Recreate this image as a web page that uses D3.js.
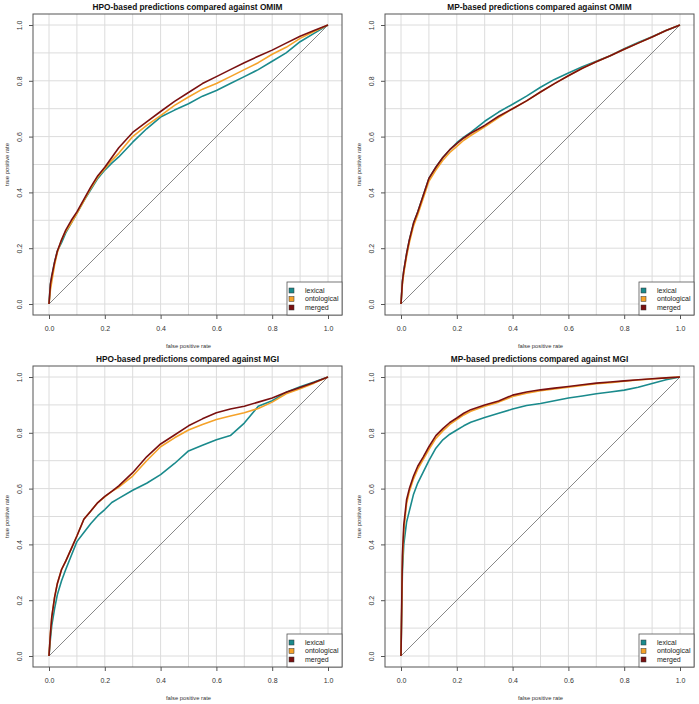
<!DOCTYPE html>
<html>
<head>
<meta charset="utf-8">
<script src="https://cdn.jsdelivr.net/npm/d3@7"></script>
<style>
  html, body { margin: 0; padding: 0; background: #fff; }
  svg { display: block; font-family: "Liberation Sans", Arial, sans-serif; }
</style>
</head>
<body>
<svg id="chart" width="699" height="704"></svg>
<script>
// ---------------- data ----------------
const fpr = [0, 0.005, 0.01, 0.02, 0.03, 0.045, 0.06, 0.08, 0.1, 0.125, 0.15, 0.175, 0.2, 0.225, 0.25,
             0.3, 0.35, 0.4, 0.45, 0.5, 0.55, 0.6, 0.65, 0.7, 0.75, 0.8, 0.85, 0.9, 0.95, 1];

const hpoOmimLexical     = [0, 0.07, 0.10, 0.15, 0.19, 0.22, 0.255, 0.29, 0.325, 0.37, 0.41, 0.45, 0.48, 0.505, 0.527,
                            0.58, 0.628, 0.67, 0.695, 0.718, 0.745, 0.765, 0.79, 0.815, 0.84, 0.87, 0.90, 0.94, 0.97, 1];
const hpoOmimOntological = [0, 0.05, 0.08, 0.14, 0.185, 0.23, 0.26, 0.29, 0.325, 0.37, 0.415, 0.455, 0.485, 0.515, 0.54,
                            0.60, 0.64, 0.675, 0.712, 0.742, 0.77, 0.79, 0.815, 0.84, 0.865, 0.895, 0.92, 0.952, 0.977, 1];
const hpoOmimMerged      = [0, 0.07, 0.10, 0.15, 0.19, 0.23, 0.265, 0.30, 0.33, 0.375, 0.42, 0.46, 0.49, 0.525, 0.56,
                            0.615, 0.653, 0.69, 0.726, 0.758, 0.79, 0.815, 0.84, 0.865, 0.888, 0.91, 0.935, 0.96, 0.98, 1];

const mpOmimLexical      = [0, 0.08, 0.12, 0.18, 0.23, 0.29, 0.33, 0.39, 0.45, 0.49, 0.525, 0.553, 0.578, 0.598, 0.615,
                            0.655, 0.688, 0.716, 0.745, 0.777, 0.805, 0.828, 0.85, 0.87, 0.89, 0.915, 0.937, 0.958, 0.98, 1];
const mpOmimOntological  = [0, 0.07, 0.11, 0.17, 0.22, 0.28, 0.32, 0.38, 0.44, 0.48, 0.515, 0.543, 0.565, 0.587, 0.604,
                            0.635, 0.668, 0.70, 0.728, 0.76, 0.79, 0.818, 0.845, 0.868, 0.89, 0.913, 0.935, 0.957, 0.98, 1];
const mpOmimMerged       = [0, 0.08, 0.12, 0.18, 0.23, 0.29, 0.33, 0.39, 0.45, 0.49, 0.525, 0.553, 0.575, 0.595, 0.612,
                            0.64, 0.673, 0.70, 0.728, 0.76, 0.79, 0.818, 0.845, 0.868, 0.89, 0.913, 0.935, 0.957, 0.98, 1];

const hpoMgiLexical      = [0, 0.06, 0.11, 0.17, 0.22, 0.27, 0.31, 0.36, 0.41, 0.443, 0.475, 0.503, 0.525, 0.55, 0.565,
                            0.594, 0.619, 0.65, 0.69, 0.735, 0.755, 0.775, 0.79, 0.835, 0.895, 0.915, 0.945, 0.965, 0.982, 1];
const hpoMgiOntological  = [0, 0.08, 0.14, 0.21, 0.26, 0.31, 0.34, 0.385, 0.43, 0.49, 0.52, 0.55, 0.57, 0.59, 0.605,
                            0.645, 0.70, 0.75, 0.782, 0.81, 0.83, 0.848, 0.86, 0.872, 0.887, 0.91, 0.94, 0.958, 0.978, 1];
const hpoMgiMerged       = [0, 0.08, 0.14, 0.21, 0.26, 0.31, 0.34, 0.385, 0.43, 0.49, 0.52, 0.55, 0.572, 0.59, 0.61,
                            0.657, 0.714, 0.76, 0.792, 0.825, 0.85, 0.872, 0.885, 0.895, 0.91, 0.925, 0.945, 0.962, 0.98, 1];

const mpMgiLexical       = [0, 0.30, 0.40, 0.48, 0.52, 0.58, 0.62, 0.66, 0.70, 0.745, 0.775, 0.795, 0.81, 0.825, 0.838,
                            0.855, 0.87, 0.885, 0.898, 0.905, 0.915, 0.925, 0.932, 0.94, 0.946, 0.953, 0.963, 0.977, 0.99, 1];
const mpMgiOntological   = [0, 0.33, 0.45, 0.545, 0.59, 0.635, 0.67, 0.705, 0.74, 0.78, 0.807, 0.83, 0.847, 0.864, 0.877,
                            0.895, 0.91, 0.93, 0.942, 0.951, 0.957, 0.963, 0.97, 0.976, 0.98, 0.985, 0.989, 0.993, 0.997, 1];
const mpMgiMerged        = [0, 0.36, 0.47, 0.56, 0.60, 0.645, 0.68, 0.714, 0.75, 0.79, 0.815, 0.837, 0.853, 0.87, 0.883,
                            0.90, 0.914, 0.935, 0.946, 0.954, 0.96, 0.966, 0.972, 0.978, 0.982, 0.986, 0.99, 0.994, 0.997, 1];

const seriesNames = ["lexical", "ontological", "merged"];
const panelTitles = [
  "HPO-based predictions compared against OMIM",
  "MP-based predictions compared against OMIM",
  "HPO-based predictions compared against MGI",
  "MP-based predictions compared against MGI"
];
const tickValues = [0, 0.2, 0.4, 0.6, 0.8, 1.0];
const gridValues = [0, 0.1, 0.2, 0.3, 0.4, 0.5, 0.6, 0.7, 0.8, 0.9, 1.0];
const xLabel = "false positive rate";
const yLabel = "true positive rate";

const panelData = [
  [hpoOmimLexical, hpoOmimOntological, hpoOmimMerged],
  [mpOmimLexical, mpOmimOntological, mpOmimMerged],
  [hpoMgiLexical, hpoMgiOntological, hpoMgiMerged],
  [mpMgiLexical, mpMgiOntological, mpMgiMerged]
];

// ---------------- style ----------------
const colors = ["#1a8a8c", "#f5a229", "#7a1010"];
const svg = d3.select("#chart");

function drawPanel(i) {
  const col = i % 2, row = Math.floor(i / 2);
  const ox = col * 352, oy = row * 352;
  const box = { x0: 33 + ox, x1: 342 + ox, y0: 14 + oy, y1: 315 + oy };
  const x = d3.scaleLinear().domain([0, 1]).range([49 + ox, 328 + ox]);
  const y = d3.scaleLinear().domain([0, 1]).range([304 + oy, 25 + oy]);
  const g = svg.append("g");

  // grid
  g.append("g").selectAll("line.v").data(gridValues).join("line")
    .attr("x1", d => x(d)).attr("x2", d => x(d))
    .attr("y1", box.y0).attr("y2", box.y1)
    .attr("stroke", "#dcdcdc").attr("stroke-width", 1);
  g.append("g").selectAll("line.h").data(gridValues).join("line")
    .attr("y1", d => y(d)).attr("y2", d => y(d))
    .attr("x1", box.x0).attr("x2", box.x1)
    .attr("stroke", "#dcdcdc").attr("stroke-width", 1);

  // diagonal
  g.append("line")
    .attr("x1", x(0)).attr("y1", y(0)).attr("x2", x(1)).attr("y2", y(1))
    .attr("stroke", "#7a7a7a").attr("stroke-width", 0.9);

  // curves
  const line = d3.line().x((d, k) => x(fpr[k])).y(d => y(d));
  panelData[i].forEach((vals, s) => {
    g.append("path").datum(vals)
      .attr("d", line)
      .attr("fill", "none")
      .attr("stroke", colors[s])
      .attr("stroke-width", 1.6)
      .attr("stroke-linejoin", "round");
  });

  // box
  g.append("rect")
    .attr("x", box.x0).attr("y", box.y0)
    .attr("width", box.x1 - box.x0).attr("height", box.y1 - box.y0)
    .attr("fill", "none").attr("stroke", "#555").attr("stroke-width", 1);

  // axes
  const xa = g.append("g").attr("transform", `translate(0,${box.y1})`)
    .call(d3.axisBottom(x).tickValues(tickValues).tickFormat(d3.format(".1f")).tickSize(4).tickPadding(7));
  xa.select(".domain").remove();
  xa.selectAll("line").attr("stroke", "#555");
  xa.selectAll("text").attr("font-size", 7).attr("fill", "#333").attr("font-family", "Liberation Sans, Arial, sans-serif");

  const ya = g.append("g").attr("transform", `translate(${box.x0},0)`)
    .call(d3.axisLeft(y).tickValues(tickValues).tickFormat(d3.format(".1f")).tickSize(4));
  ya.select(".domain").remove();
  ya.selectAll("line").attr("stroke", "#555");
  ya.selectAll("text")
    .attr("transform", "rotate(-90)")
    .attr("x", 0).attr("y", -13).attr("dy", "0.35em")
    .attr("text-anchor", "middle")
    .attr("font-size", 7).attr("fill", "#333").attr("font-family", "Liberation Sans, Arial, sans-serif");

  // title
  g.append("text")
    .attr("x", (box.x0 + box.x1) / 2).attr("y", 10 + oy)
    .attr("text-anchor", "middle")
    .attr("font-size", 8.3).attr("font-weight", "bold").attr("fill", "#111")
    .text(panelTitles[i]);

  // axis labels
  g.append("text")
    .attr("x", (x(0) + x(1)) / 2).attr("y", 348 + oy)
    .attr("text-anchor", "middle").attr("font-size", 5.8).attr("fill", "#333")
    .text(xLabel);
  g.append("text")
    .attr("transform", `translate(${9 + ox},${(y(0) + y(1)) / 2}) rotate(-90)`)
    .attr("text-anchor", "middle").attr("font-size", 5.8).attr("fill", "#333")
    .text(yLabel);

  // legend
  const lg = g.append("g").attr("transform", `translate(${box.x1 - 55},${box.y1 - 33})`);
  lg.append("rect").attr("x", 0).attr("y", 0).attr("width", 55).attr("height", 33)
    .attr("fill", "#fff").attr("stroke", "#555").attr("stroke-width", 0.8);
  seriesNames.forEach((name, s) => {
    lg.append("rect")
      .attr("x", 2).attr("y", 6 + s * 8.5)
      .attr("width", 5).attr("height", 5)
      .attr("fill", colors[s]).attr("stroke", "#333").attr("stroke-width", 0.5);
    lg.append("text")
      .attr("x", 18).attr("y", 8.5 + s * 8.5).attr("dy", "0.35em")
      .attr("font-size", 7).attr("fill", "#222")
      .text(name);
  });
}

for (let i = 0; i < 4; i++) drawPanel(i);
</script>
</body>
</html>
